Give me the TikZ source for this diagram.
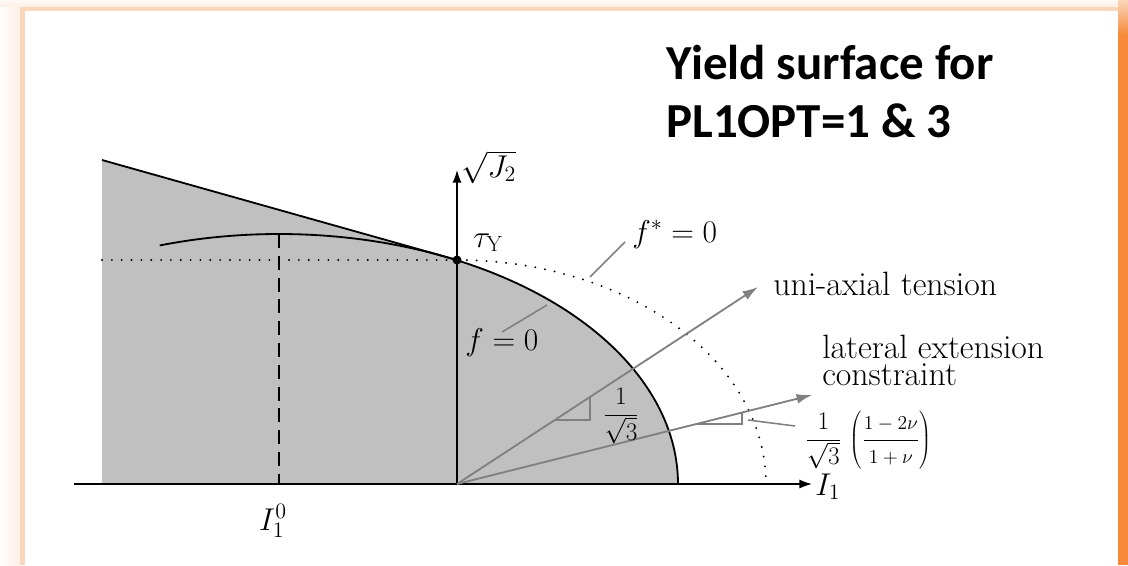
\RequirePackage{fix-cm}
\documentclass[tikz,border=0pt]{standalone}
\usepackage{fontspec}
\newfontfamily\titlefont{Carlito}
\usetikzlibrary{arrows.meta}
\definecolor{fillgray}{HTML}{C0C0C0}
\definecolor{arrgray}{HTML}{808080}
\definecolor{orangeA}{HTML}{F68A3A}
\definecolor{peach}{HTML}{FAD6BA}
\definecolor{peachlight}{HTML}{FDEFE4}
\newcommand{\smallpart}[1]{\hbox{\fontsize{14}{14}\selectfont$#1$}}
\tikzset{
  ax/.style={line width=1pt, -{Latex[length=9pt,width=6.5pt]}},
  bound/.style={line width=1.3pt},
  garrow/.style={draw=arrgray, line width=1.3pt, -{Latex[length=11pt,width=7pt]}},
  leader/.style={draw=arrgray, line width=1.1pt},
  tri/.style={draw=arrgray, line width=0.8pt},
  dotline/.style={line width=1.5pt, dash pattern=on 0pt off 7pt, line cap=round},
  dashline/.style={line width=1pt, dash pattern=on 10pt off 5.5pt},
  lbl/.style={inner sep=0pt, font=\fontsize{22.4}{19}\selectfont},
  txt/.style={inner sep=0pt, font=\fontsize{24}{19}\selectfont},
  frc/.style={inner sep=0pt, font=\fontsize{18}{19}\selectfont},
  title/.style={inner sep=0pt, font=\titlefont\bfseries\fontsize{34.8}{40}\selectfont},
}
\begin{document}
\begin{tikzpicture}[x=0.025cm,y=-0.025cm]
\useasboundingbox (0,0) rectangle (1128,565);
% frame
\fill[white] (0,0) rectangle (1128,565);
\shade[left color=white, right color=peachlight] (0,0) rectangle (20,565);
\shade[top color=peachlight!40, bottom color=peachlight] (0,0) rectangle (1118,7);
\fill[peach] (20,7) rectangle (1118,11);
\fill[peach] (20,11) rectangle (25,565);
\fill[orangeA] (1118,0) rectangle (1128,565);
\shade[top color=peach, bottom color=orangeA] (1118,0) rectangle (1128,35);
% coordinates
\coordinate (O) at (457,484);
\coordinate (tauY) at (457,260);
\coordinate (TL) at (102,160);
\coordinate (BL) at (102,484);
\coordinate (xL) at (74,484);
\coordinate (xR) at (812,484);
\coordinate (yT) at (457,170);
\coordinate (I0top) at (279,234);
\coordinate (I0bot) at (279,484);
\coordinate (uniTip) at (758,287);
\coordinate (latTip) at (812,395);
% region
\fill[fillgray] (BL) -- (TL) -- (tauY) -- plot[domain=63.5:0,samples=60] ({279+399*cos(\x)},{484-250*sin(\x)}) -- cycle;
\draw[dotline] (TL |- tauY) -- (tauY);
\draw[dotline] plot[domain=90:0,samples=80] ({457+309*cos(\x)},{484-224*sin(\x)});
\draw[dashline] (I0top) -- (I0bot);
\draw[bound] plot[domain=107.4:63.5,samples=50] ({279+399*cos(\x)},{484-250*sin(\x)});
\draw[bound] (TL) -- (tauY);
\draw[bound] plot[domain=63.5:0,samples=60] ({279+399*cos(\x)},{484-250*sin(\x)});
% axes
\draw[ax] (xL) -- (xR);
\draw[ax] (O) -- (yT);
\fill (tauY) circle[radius=4.5];
% load paths
\draw[garrow] (O) -- (uniTip);
\draw[garrow] (O) -- (latTip);
\draw[tri] (555,420) -- (590,420) -- (590,397);
\draw[tri] (697,424) -- (742,424) -- (742,412.5);
% leaders
\coordinate (fsA) at (590,277); \coordinate (fsB) at (625,242);
\coordinate (fA) at (502,332); \coordinate (fB) at (547,305);
\coordinate (lA) at (748,420); \coordinate (lB) at (795,426);
\draw[leader] (fsA) -- (fsB);
\draw[leader] (fA) -- (fB);
\draw[leader] (lA) -- (lB);
% labels
\node[lbl, anchor=base west] (sqJ) at (461,177) {$\sqrt{J_2}$};
\node[lbl, anchor=base west] (tau) at (473,247) {$\tau_{\mathrm{Y}}$};
\node[lbl, anchor=base west] (fstar) at (632,242) {$f^{*}=0$};
\node[lbl, anchor=base west] (f0) at (465,350) {$f=0$};
\node[txt, anchor=base west] (uni) at (773,295) {uni-axial tension};
\node[txt, anchor=base west] (lat1) at (822,358) {lateral extension};
\node[txt, anchor=base west] (lat2) at (822,385) {constraint};
\node[frc] (slope1) at (621,416) {$\displaystyle\frac{1}{\sqrt{3}}$};
\node[frc, anchor=west] (slope2) at (805,440) {$\displaystyle\frac{1}{\sqrt{3}}\,\left(\vphantom{\frac{1}{\sqrt{3}}}\frac{\smallpart{\displaystyle 1-2\nu}}{\smallpart{\displaystyle 1+\nu}}\right)$};
\node[lbl, anchor=base west] (I1) at (815,495) {$I_1$};
\node[lbl, anchor=base] (I10) at (273,530) {$I_1^0$};
\node[title, anchor=base west] (t1) at (666,80) {Yield surface for};
\node[title, anchor=base west] (t2) at (666,137) {PL1OPT=1 \& 3};
\end{tikzpicture}
\end{document}
